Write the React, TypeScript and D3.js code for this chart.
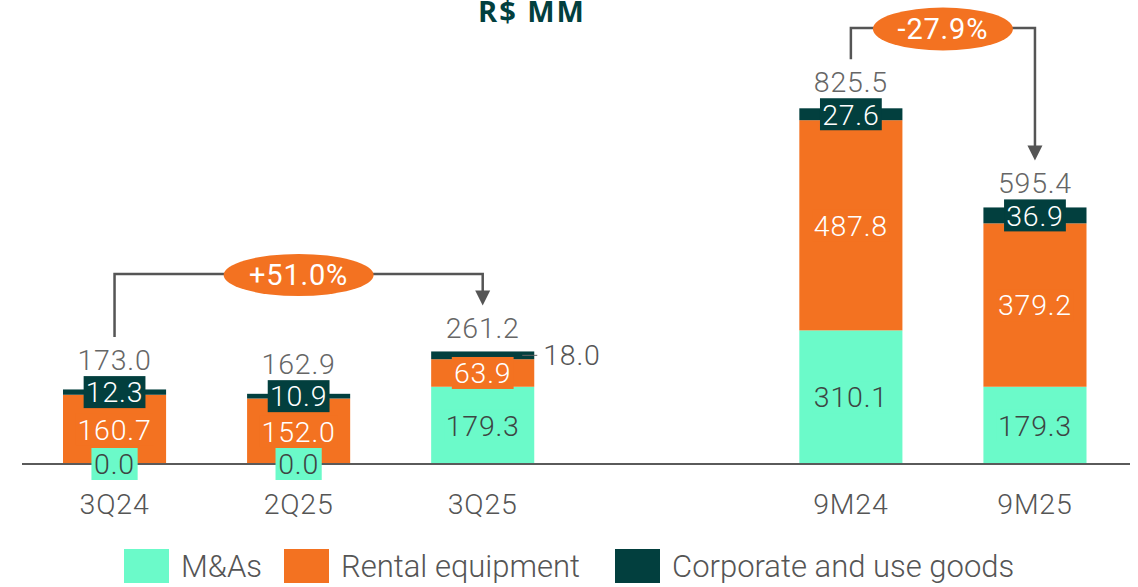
import React from 'react';
import * as d3 from 'd3';

// Chart data
const categories = ['3Q24', '2Q25', '3Q25', '', '9M24', '9M25'];
const periods = ['3Q24', '2Q25', '3Q25', '9M24', '9M25'];
const mna = [0.0, 0.0, 179.3, 310.1, 179.3];
const rental = [160.7, 152.0, 63.9, 487.8, 379.2];
const corporate = [12.3, 10.9, 18.0, 27.6, 36.9];
const totals = [173.0, 162.9, 261.2, 825.5, 595.4];
const seriesNames = ['M&As', 'Rental equipment', 'Corporate and use goods'];
const growth = [
  { from: '3Q24', to: '3Q25', label: '+51.0%' },
  { from: '9M24', to: '9M25', label: '-27.9%' },
];

const W = 1138;
const H = 587;
const COLORS = ['#6BFAC9', '#F37221', '#023F3E'];
const TEXT_IN = ['#3d4543', '#ffffff', '#ffffff'];
const FONT = 'Roboto, "Open Sans", sans-serif';
const LINE = '#555555';
const FS = 28.5;
const LS = 0.8;

// rough text width for the label boxes
const textW = (s: string) => s.replace('.', '').length * 15.6 + 7;

export default function App() {
  const baseY = 464;
  const x = d3.scaleBand<string>()
    .domain(categories)
    .range([22.5, 1127])
    .paddingInner(0.44)
    .paddingOuter(0.22);
  const y = d3.scaleLinear().domain([0, 825.5]).range([baseY, 108.3]);

  const rows = periods.map((p, i) => ({
    period: p, mna: mna[i], rental: rental[i], corporate: corporate[i], total: totals[i],
  }));
  const stack = d3.stack<any>().keys(['mna', 'rental', 'corporate'])(rows);

  const bw = x.bandwidth();
  const cx = (p: string) => (x(p) as number) + bw / 2;

  // where each total label sits
  const totalY = rows.map((r, i) => {
    const top = y(r.total);
    const cTop = y(stack[2][i][0]);
    const cMid = (top + cTop) / 2;
    const external = r.period === '3Q25';
    const boxTop = external ? top : Math.min(top, cMid - 16);
    return boxTop - (external ? 13 : 6);
  });

  return (
    <svg width={W} height={H} style={{ position: 'absolute', left: 0, top: 0, background: '#fff' }}
      fontFamily={FONT}>
      <text x={532} y={22} textAnchor="middle" fontSize={29} fontWeight={700} letterSpacing={2}
        fontFamily='"Open Sans", sans-serif' fill="#023F3E">R$ MM</text>

      {/* stacked bars */}
      {stack.map((s, k) => (
        <g key={k}>
          {s.map((d, i) => (
            <rect key={i} x={x(periods[i])} y={y(d[1])} width={bw}
              height={Math.max(0, y(d[0]) - y(d[1]))} fill={COLORS[k]} />
          ))}
        </g>
      ))}

      {/* baseline */}
      <line x1={22} x2={1130} y1={baseY} y2={baseY} stroke="#5a5a5a" strokeWidth={2} />

      {/* segment labels */}
      {stack.map((s, k) => (
        <g key={'l' + k}>
          {s.map((d, i) => {
            const v = d[1] - d[0];
            const txt = v.toFixed(1);
            const mid = (y(d[0]) + y(d[1])) / 2;
            if (k === 2 && periods[i] === '3Q25') {
              const x0 = (x(periods[i]) as number) + bw;
              return (
                <g key={i}>
                  <line x1={x0 - 12} x2={x0 + 3} y1={mid} y2={mid} stroke="#666" strokeWidth={1} />
                  <text x={x0 + 9} y={mid} dy="0.35em" fontSize={FS} fontWeight={300}
                    letterSpacing={LS} fill="#555">{txt}</text>
                </g>
              );
            }
            const tw = textW(txt) + 8;
            return (
              <g key={i}>
                <rect x={cx(periods[i]) - tw / 2} y={mid - 16} width={tw} height={32} fill={COLORS[k]} />
                <text x={cx(periods[i])} y={mid} dy="0.36em" textAnchor="middle" fontSize={FS}
                  fontWeight={300} letterSpacing={LS} fill={TEXT_IN[k]}>{txt}</text>
              </g>
            );
          })}
        </g>
      ))}

      {/* totals */}
      {rows.map((r, i) => (
        <text key={'t' + i} x={cx(r.period)} y={totalY[i]} textAnchor="middle" fontSize={FS}
          fontWeight={300} letterSpacing={LS} fill="#666">{r.total.toFixed(1)}</text>
      ))}

      {/* category labels */}
      {periods.map(p => (
        <text key={'c' + p} x={cx(p)} y={514} textAnchor="middle" fontSize={FS} fontWeight={300}
          letterSpacing={LS} fill="#555">{p}</text>
      ))}

      {/* growth brackets */}
      {growth.map((g, j) => {
        const i0 = periods.indexOf(g.from);
        const i1 = periods.indexOf(g.to);
        const xa = cx(g.from);
        const xb = cx(g.to);
        const ya = totalY[i0] - 33;
        const yb = totalY[i1] - 33;
        const hy = j === 0 ? 274 : 28;
        const ex = j === 0 ? cx('2Q25') : (xa + xb) / 2;
        const rx = j === 0 ? 75 : 70;
        const ry = j === 0 ? 21 : 21.5;
        return (
          <g key={'g' + j}>
            <path d={`M${xa},${ya}V${hy}H${xb}V${yb - 14}`} fill="none" stroke={LINE} strokeWidth={2.5} />
            <path d={`M${xb - 7.5},${yb - 15}L${xb + 7.5},${yb - 15}L${xb},${yb}Z`} fill={LINE} />
            <ellipse cx={ex} cy={hy + 1} rx={rx} ry={ry} fill="#F37221" />
            <text x={ex} y={hy + 1} dy="0.36em" textAnchor="middle" fontSize={29} fontWeight={400}
              letterSpacing={LS} fill="#fff">{g.label}</text>
          </g>
        );
      })}

      {/* legend */}
      {seriesNames.map((n, k) => {
        const lx = [124, 284, 615][k];
        return (
          <g key={'lg' + k}>
            <rect x={lx} y={549} width={45} height={34} fill={COLORS[k]} />
            <text x={lx + 57} y={577} fontSize={31} fontWeight={300} fill="#555">{n}</text>
          </g>
        );
      })}
    </svg>
  );
}
